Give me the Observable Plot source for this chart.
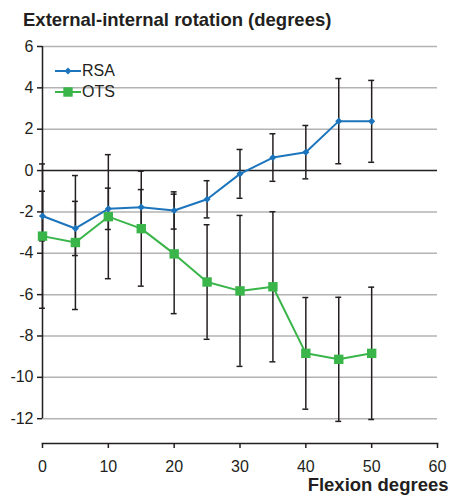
<!DOCTYPE html>
<html><head><meta charset="utf-8">
<script src="https://cdn.jsdelivr.net/npm/d3@7"></script>
<script src="https://cdn.jsdelivr.net/npm/@observablehq/plot@0.6"></script>
<style>
body{margin:0;background:#fff;font-family:"Liberation Sans",Arial,sans-serif;}
#wrap{position:relative;width:450px;height:499px;overflow:hidden}
#title{height:20px;padding:10px 0 0 23px;font-size:18.5px;font-weight:bold;line-height:20px;color:#231f20;white-space:nowrap}
#legend{position:absolute;left:55px;top:60px;font-size:16px;color:#231f20}
.item{display:flex;align-items:center;height:21px}
.item svg{display:block;margin-right:1px}
</style></head>
<body>
<div id="wrap">
  <div id="title">External-internal rotation (degrees)</div>
  <div id="chart"></div>
  <div id="legend"></div>
</div>
<script>
// Data
const flexion = [0, 5, 10, 15, 20, 25, 30, 35, 40, 45, 50];
const rsaMean = [-2.2, -2.8, -1.85, -1.77, -1.93, -1.39, -0.16, 0.63, 0.89, 2.39, 2.38];
const rsaSD   = [1.2, 1.31, 1.0, 0.85, 0.9, 0.9, 1.18, 1.15, 1.29, 2.06, 1.98];
const otsMean = [-3.17, -3.48, -2.23, -2.81, -4.03, -5.39, -5.82, -5.62, -8.84, -9.13, -8.84];
const otsSD   = [3.49, 3.24, 3.0, 2.78, 2.89, 2.77, 3.65, 3.63, 2.7, 3.0, 3.2];
const seriesNames = ["RSA", "OTS"];
const yTicks = [6, 4, 2, 0, -2, -4, -6, -8, -10, -12];
const xTicks = [0, 10, 20, 30, 40, 50, 60];
const xLabel = "Flexion degrees";

const blue = "#1c75bc", green = "#39b54a", ink = "#231f20", grid = "#b3b3b3";

const rows = flexion.map((x, i) => ({x, rsa: rsaMean[i], rsaSd: rsaSD[i], ots: otsMean[i], otsSd: otsSD[i]}));
const bars = rows.flatMap(d => [
  {x: d.x, lo: d.rsa - d.rsaSd, hi: d.rsa + d.rsaSd},
  {x: d.x, lo: d.ots - d.otsSd, hi: d.ots + d.otsSd}
]);
const caps = bars.flatMap(b => [{x: b.x, y: b.lo}, {x: b.x, y: b.hi}]);
const capHalf = 0.45;

const chart = Plot.plot({
  width: 450,
  height: 469,
  marginTop: 16,
  marginBottom: 56,
  marginLeft: 42,
  marginRight: 13,
  x: {domain: [0, 60]},
  y: {domain: [-13.2, 6]},
  style: {fontFamily: '"Liberation Sans", Arial, sans-serif', fontSize: "16px", color: ink, background: "#fff"},
  marks: [
    Plot.ruleY(yTicks.filter(d => d !== 0), {stroke: grid, strokeWidth: 1.5}),
    Plot.ruleY([0], {stroke: ink, strokeWidth: 1.5}),
    Plot.ruleX([0], {y1: d3.min(yTicks), y2: d3.max(yTicks), stroke: ink, strokeWidth: 1.5}),
    Plot.frame({anchor: "bottom", stroke: ink, strokeWidth: 1.5}),
    Plot.axisY({ticks: yTicks, tickSize: 5, tickPadding: 4, label: null, tickFormat: d => String(d), stroke: ink, strokeWidth: 1.5}),
    Plot.axisX({ticks: xTicks, tickSize: 5, tickPadding: 12, label: null, tickFormat: d => String(d), stroke: ink, strokeWidth: 1.5}),
    Plot.ruleX(bars, {x: "x", y1: "lo", y2: "hi", stroke: ink, strokeWidth: 1.5}),
    Plot.ruleY(caps, {y: "y", x1: d => d.x - capHalf, x2: d => d.x + capHalf, stroke: ink, strokeWidth: 1.5}),
    Plot.line(rows, {x: "x", y: "ots", stroke: green, strokeWidth: 2}),
    Plot.line(rows, {x: "x", y: "rsa", stroke: blue, strokeWidth: 2}),
    Plot.dot(rows, {x: "x", y: "ots", symbol: "square", r: 5.3, fill: green}),
    Plot.dot(rows, {x: "x", y: "rsa", symbol: "diamond2", r: 3.2, fill: blue}),
    Plot.text([xLabel], {frameAnchor: "bottom-right", textAnchor: "end", dx: 11, dy: 47, fontSize: 18.5, fontWeight: "bold", fill: ink})
  ]
});
document.getElementById("chart").appendChild(chart);

// Legend
const legend = document.getElementById("legend");
const legendColors = [blue, green];
seriesNames.forEach((name, i) => {
  const item = document.createElement("div");
  item.className = "item";
  const c = legendColors[i];
  const marker = i === 0
    ? `<path d="M13,2.5 L16.5,6 L13,9.5 L9.5,6 Z" fill="${c}"/>`
    : `<rect x="8.3" y="1.3" width="9.4" height="9.4" fill="${c}"/>`;
  item.innerHTML = `<svg width="26" height="12"><line x1="0" x2="26" y1="6" y2="6" stroke="${c}" stroke-width="2"/>${marker}</svg><span>${name}</span>`;
  legend.appendChild(item);
});
</script>
</body></html>
